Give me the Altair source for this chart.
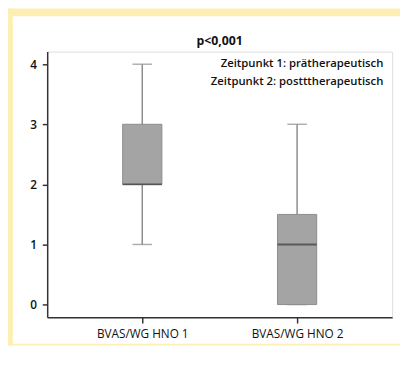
import altair as alt
import pandas as pd

categories = ["BVAS/WG HNO 1", "BVAS/WG HNO 2"]
whisker_low = [1, 0]
q1 = [2, 0]
median = [2, 1]
q3 = [3, 1.5]
whisker_high = [4, 3]

title_text = "p<0,001"
note_lines = ["Zeitpunkt 1: prätherapeutisch", "Zeitpunkt 2: postttherapeutisch"]
y_ticks = [0, 1, 2, 3, 4]

df = pd.DataFrame({
    "cat": categories,
    "lo": whisker_low,
    "q1": q1,
    "med": median,
    "q3": q3,
    "hi": whisker_high,
})

FONT = "Open Sans"
W, H = 352, 271
PAD_B = 29

xscale = alt.Scale(type="point", padding=0.614, domain=categories)
yscale = alt.Scale(domain=[-0.21, 4.21], nice=False, zero=False)

xs = alt.X("cat:N", sort=categories, scale=xscale,
           axis=alt.Axis(title=None, labelAngle=0, labelFontSize=12, labelColor="#111",
                         labelFont=FONT, tickSize=6, tickColor="#333", domainColor="#333",
                         domainWidth=1.5, tickWidth=1.5, labelPadding=6, grid=False))


def yenc(field):
    return alt.Y(field + ":Q", scale=yscale,
                 axis=alt.Axis(title=None, values=y_ticks, labelFontSize=12, labelFontWeight=600,
                               labelColor="#111", labelFont=FONT, tickSize=5, tickColor="#333",
                               domainColor="#333", domainWidth=1.5, tickWidth=1.5,
                               labelPadding=6, grid=False, format="d"))


base = alt.Chart(df)

whisker = base.mark_rule(color="#8c8c8c", strokeWidth=1.5).encode(
    x=xs, y=yenc("lo"), y2="hi:Q")
cap_lo = base.mark_tick(color="#8c8c8c", size=20, thickness=1.5, orient="horizontal").encode(
    x=xs, y=yenc("lo"))
cap_hi = base.mark_tick(color="#8c8c8c", size=20, thickness=1.5, orient="horizontal").encode(
    x=xs, y=yenc("hi"))
box = base.mark_bar(size=40, fill="#a4a4a4", stroke="#8c8c8c", strokeWidth=1).encode(
    x=xs, y=yenc("q1"), y2="q3:Q")
med = base.mark_tick(color="#3a3a3a", size=40, thickness=2, orient="horizontal").encode(
    x=xs, y=yenc("med"))

one = pd.DataFrame({"k": [0]})
note1 = alt.Chart(one).mark_text(align="right", baseline="middle", font=FONT, fontSize=11.5,
                                 fontWeight=600, color="#111", text=note_lines[0]).encode(
    x=alt.value(W - 9), y=alt.value(13))
note2 = alt.Chart(one).mark_text(align="right", baseline="middle", font=FONT, fontSize=11.5,
                                 fontWeight=600, color="#111", text=note_lines[1]).encode(
    x=alt.value(W - 9), y=alt.value(31))
title = alt.Chart(one).mark_text(align="center", baseline="middle", font=FONT, fontSize=12.5,
                                 fontWeight="bold", color="#111", text=title_text).encode(
    x=alt.value(W / 2), y=alt.value(-11))

# decorative yellow frame
yellow = "#fdefb4"
left_band = alt.Chart(one).mark_rect(color=yellow).encode(
    x=alt.value(-42), x2=alt.value(-35), y=alt.value(-44), y2=alt.value(H + PAD_B))
top_band = alt.Chart(one).mark_rect(color=yellow).encode(
    x=alt.value(-42), x2=alt.value(362), y=alt.value(-44), y2=alt.value(-36))
bottom_band = alt.Chart(one).mark_rect(color=yellow).encode(
    x=alt.value(-42), x2=alt.value(362), y=alt.value(H + PAD_B - 2), y2=alt.value(H + PAD_B))

chart = alt.layer(left_band, top_band, bottom_band, whisker, cap_lo, cap_hi, box, med,
                  note1, note2, title).properties(
    width=W, height=H,
    autosize=alt.AutoSizeParams(type="none"),
    padding={"left": 40, "top": 41, "right": 8, "bottom": PAD_B},
).configure_view(
    stroke="#444", strokeWidth=1.5
).configure(background="white")

chart.save("out.html", embed_options={"renderer": "svg", "actions": False})
